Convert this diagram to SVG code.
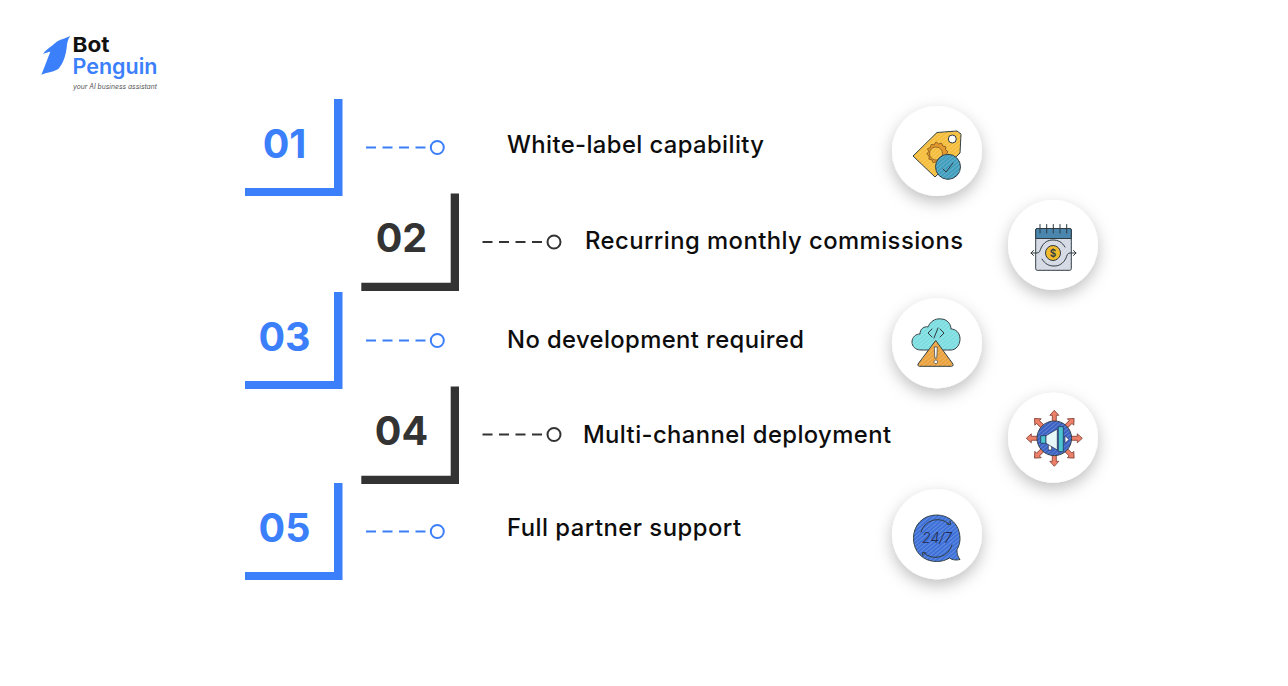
<svg xmlns="http://www.w3.org/2000/svg" width="1288" height="686" viewBox="0 0 1288 686">
<style>
text{font-family:"Inter","Liberation Sans",sans-serif}
.num{font-size:39.500px;font-weight:700;text-anchor:middle}
.lab{font-size:23.800px;font-weight:550;fill:#0d0d0d}
.blue{fill:#3b7ffb}.dark{fill:#333}
.card{fill:#fff;filter:url(#sh)}
.dash{fill:none;stroke-width:2;stroke-dasharray:10 6.500}
.dot{fill:#fff;stroke-width:2}
.cb{stroke:#3b7ffb}.cd{stroke:#333}
.ln{stroke:#2f3b40;stroke-width:1;stroke-linejoin:round}
.ha{fill:url(#hatch);stroke:none}
.thin{fill:none;stroke:#2f3b40;stroke-width:1;stroke-linecap:round;stroke-linejoin:round}
</style>
<defs>
<filter id="sh" x="-40%" y="-40%" width="180%" height="190%"><feDropShadow dx="0" dy="6" stdDeviation="8" flood-color="#000" flood-opacity=".25"/></filter>
<pattern id="hatch" width="3" height="3" patternUnits="userSpaceOnUse" patternTransform="rotate(-40)"><rect width="3" height=".8" fill="#fff" fill-opacity=".25"/></pattern>
<path id="arr" d="M0-28 4.500-23 2-23 2-16-2-16-2-23-4.500-23Z"/>
</defs>
<rect width="1288" height="686" fill="#fff"/>

<g id="logo">
<path transform="translate(30 25) scale(.3333)" d="M121 33 101 41C88 44 76 52 66 62 56 69 46 76 39 87 47 84 54 81 61 80 53 100 44 125 34 149 50 142 68 142 85 132 100 115 107 92 110 68 111 55 113 43 121 33Z" fill="#3b7ffb"/>
<text x="72.500" y="52" font-size="20.500" font-weight="700" fill="#111" textLength="37" lengthAdjust="spacingAndGlyphs">Bot</text>
<text x="72.500" y="73.500" font-size="21.500" font-weight="600" fill="#3b7ffb" textLength="85" lengthAdjust="spacingAndGlyphs">Penguin</text>
<text x="73" y="88.500" font-size="7.200" font-style="italic" fill="#555" textLength="84" lengthAdjust="spacingAndGlyphs">your AI business assistant</text>
</g>

<g id="connectors">
<path class="dash cb" d="M366 147.500H426"/><circle class="dot cb" cx="437.300" cy="147.500" r="6.500"/>
<path class="dash cd" d="M482.500 242H542.500"/><circle class="dot cd" cx="554" cy="242" r="6.500"/>
<path class="dash cb" d="M366 340.500H426"/><circle class="dot cb" cx="437.300" cy="340.500" r="6.500"/>
<path class="dash cd" d="M482.500 434.500H542.500"/><circle class="dot cd" cx="554" cy="434.500" r="6.500"/>
<path class="dash cb" d="M366 531.500H426"/><circle class="dot cb" cx="437.300" cy="531.500" r="6.500"/>
</g>

<g id="node-01">
<path class="blue" d="M334 99H342.500V196H245V188H334Z"/>
<text class="num blue" x="284.500" y="157.500">01</text>
<text class="lab" x="507" y="153" textLength="257">White-label capability</text>
<circle class="card" cx="937" cy="151" r="45"/>
<path class="ln" fill="#f5bd3a" d="M913 156 937 132.500 957 131 961 134 960 153 935 177Z"/>
<path class="ha" d="M913 156 937 132.500 957 131 961 134 960 153 935 177Z"/>
<circle cx="952.300" cy="139" r="4" fill="#fff" stroke="#2f3b40"/>
<path fill="#e69a2e" stroke="#7a5320" stroke-width=".8" fill-rule="evenodd" d="M936 142l2.500 2 3-.8 1.300 2.800 3 .8-.2 3 2.400 2-1.800 2.500 1 3-2.800 1.200-.8 3-3-.3-2 2.300-2.500-1.700-3 .9-1.200-2.800-3-.8.2-3-2.300-2 1.800-2.500-1-2.900 2.800-1.200.8-3 3 .3ZM936 147a6.500 6.500 0 1 0 .01 0Z"/>
<circle class="ln" cx="948" cy="166.800" r="12.500" fill="#3f9dbd"/>
<circle class="ha" cx="948" cy="166.800" r="12.500"/>
<path class="thin" d="M943 169l3 3 7-9"/>
</g>

<g id="node-02">
<path class="dark" d="M450.700 193.500H459V291H361.300V282.700H450.700Z"/>
<text class="num dark" x="401.500" y="252">02</text>
<text class="lab" x="585" y="249" textLength="378">Recurring monthly commissions</text>
<circle class="card" cx="1053" cy="245" r="45"/>
<rect class="ln" x="1035.700" y="228.500" width="35.600" height="41.800" rx="1.500" fill="#d3d8e3"/>
<rect class="ha" x="1035.700" y="228.500" width="35.600" height="41.800"/>
<path class="ln" fill="#4a86ad" d="M1035.700 238.500V230q0-1.500 1.500-1.500h32.600q1.500 0 1.500 1.500v8.500Z"/>
<path class="thin" d="M1040 224.500V233M1046.700 224.500V233M1053.300 224.500V233M1060 224.500V233M1066.700 224.500V233"/>
<path class="thin" d="M1031 253h6c3 0 3-3 4-5 3-6 7-8 12-8s9 2 12 7M1076 253h-6c-3 0-3 3-4 5-3 6-7 8-12 8s-9-2-12-7M1033.500 250.500 1031 253l2.500 2.500M1073.500 250.500 1076 253l-2.500 2.500"/>
<circle cx="1053" cy="253" r="7.500" fill="#f2bb2d" stroke="#2f3b40"/>
<text x="1053" y="256.500" font-size="10" font-weight="600" text-anchor="middle" fill="#2f3b40">$</text>
</g>

<g id="node-03">
<path class="blue" d="M334 292H342.500V389H245V381H334Z"/>
<text class="num blue" x="284.500" y="350.500">03</text>
<text class="lab" x="507" y="348" textLength="297">No development required</text>
<circle class="card" cx="937" cy="343.300" r="45"/>
<path class="ln" fill="#7bdde0" d="M921 350c-6 0-9-4-9-8 0-5 4-8 8-8 0-5 4-8 8-7 2-5 7-9 13-8 6 0 10 5 10 10 5 0 9 4 9 10 0 6-4 11-9 11Z"/>
<path class="ha" d="M921 350c-6 0-9-4-9-8 0-5 4-8 8-8 0-5 4-8 8-7 2-5 7-9 13-8 6 0 10 5 10 10 5 0 9 4 9 10 0 6-4 11-9 11Z"/>
<path class="thin" d="M932 329l-4 4 4 4M940 329l4 4-4 4M938 328l-4 10"/>
<path class="ln" fill="#eba23c" d="M935.700 340.500 953 364q.8 2-1.500 2.300H919.500q-2.300-.3-1.500-2.300Z"/>
<path class="ha" d="M935.700 340.500 953 364q.8 2-1.500 2.300H919.500q-2.300-.3-1.500-2.300Z"/>
<path d="M934.300 347h3l-.5 11h-2ZM935.800 360a1.800 1.800 0 1 0 .01 0Z" fill="#fff" stroke="#2f3b40" stroke-width=".7"/>
</g>

<g id="node-04">
<path class="dark" d="M450.700 386.500H459V484H361.300V475.700H450.700Z"/>
<text class="num dark" x="401.500" y="445">04</text>
<text class="lab" x="583" y="443" textLength="308">Multi-channel deployment</text>
<circle class="card" cx="1053" cy="437.700" r="45"/>
<g transform="translate(1054.300 438.300)" fill="#ee7f68" stroke="#7a3b30" stroke-width=".8">
<use href="#arr"/><use href="#arr" transform="rotate(45)"/><use href="#arr" transform="rotate(90)"/><use href="#arr" transform="rotate(135)"/><use href="#arr" transform="rotate(180)"/><use href="#arr" transform="rotate(225)"/><use href="#arr" transform="rotate(270)"/><use href="#arr" transform="rotate(315)"/>
</g>
<circle class="ln" cx="1054.300" cy="438.300" r="17.300" fill="#3a62c4"/>
<circle class="ha" cx="1054.300" cy="438.300" r="17.300"/>
<g stroke="#1f2a4d" stroke-width=".7" stroke-linejoin="round">
<path fill="#fff" d="M1048.300 443.300H1051.700V450H1048.300Z"/>
<path fill="#4cc5d0" d="M1040.700 435.700H1046V443.300H1040.700Z"/>
<path fill="#e8f8f9" d="M1046 435.700 1057.300 429V450L1046 443.300Z"/>
<path fill="#4cc5d0" d="M1058.300 426.700H1063.300V451.700H1058.300Z"/>
<path fill="#fff" d="M1065 435.700 1069 439.500 1065 443.300Z"/>
</g>
</g>

<g id="node-05">
<path class="blue" d="M334 483H342.500V580H245V572H334Z"/>
<text class="num blue" x="284.500" y="541.500">05</text>
<text class="lab" x="507" y="536" textLength="234">Full partner support</text>
<circle class="card" cx="937" cy="534.300" r="45"/>
<path class="ln" fill="#3d70d8" d="M936.700 515C923 515 913.500 525 913.500 538.300S923 561.500 936.700 561.500C942 561.500 946 560 949.500 558 952 560 956 560.500 960 559.500 957.500 556.500 956.700 553 957 549.500 959 546 960 542.500 960 538.300 960 525 950 515 936.700 515Z"/>
<path class="ha" d="M936.700 515C923 515 913.500 525 913.500 538.300S923 561.500 936.700 561.500C942 561.500 946 560 949.500 558 952 560 956 560.500 960 559.500 957.500 556.500 956.700 553 957 549.500 959 546 960 542.500 960 538.300 960 525 950 515 936.700 515Z"/>
<path class="thin" d="M921 532a17 17 0 0 1 28-8M947 524l3.500.500-.5-3.500M952 545a17 17 0 0 1-28 8M926 553l-3.500-.500.5 3.500"/>
<text x="937" y="543" font-size="14" font-weight="300" text-anchor="middle" fill="#1f2a4d" font-style="italic">24/7</text>
</g>
</svg>
